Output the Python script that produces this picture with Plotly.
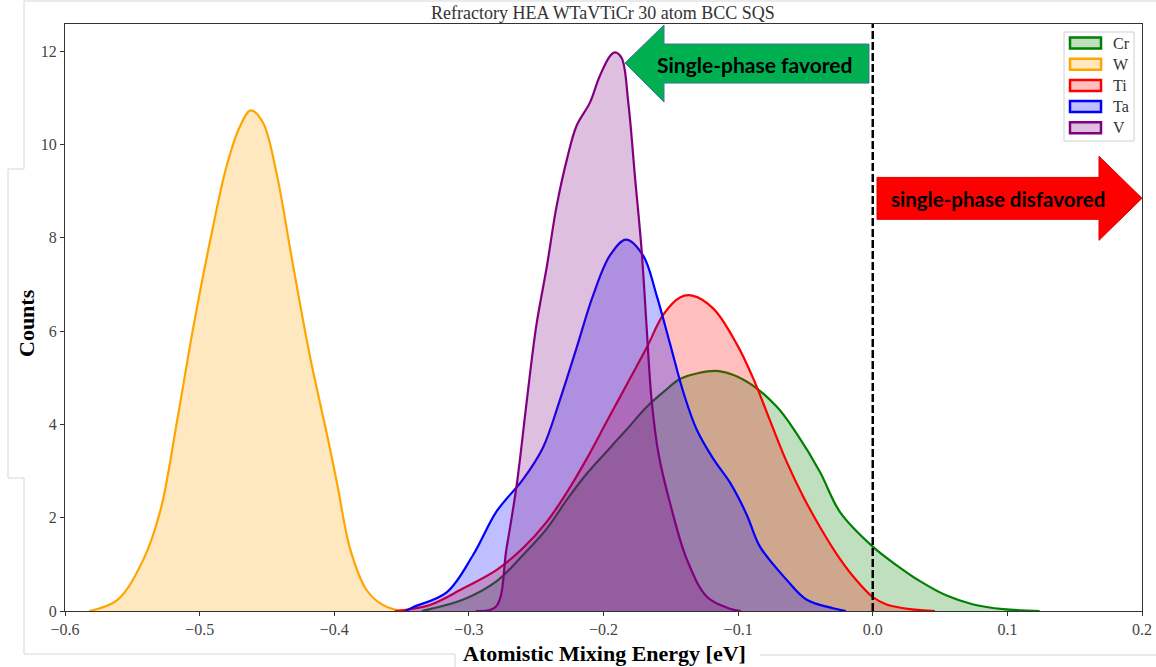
import plotly.graph_objects as go

# ---------------- data ----------------
species = ["Cr", "W", "Ti", "Ta", "V"]
line_colors = ["rgb(0,128,0)", "rgb(255,165,0)", "rgb(255,0,0)", "rgb(0,0,255)", "rgb(128,0,128)"]
fill_colors = ["rgba(0,128,0,0.25)", "rgba(255,165,0,0.25)", "rgba(255,0,0,0.25)",
               "rgba(0,0,255,0.25)", "rgba(128,0,128,0.25)"]

cr_x = [-0.335, -0.329, -0.3045, -0.2793, -0.2598, -0.2422, -0.2273, -0.2125, -0.1976, -0.1828,
        -0.168, -0.1556, -0.1432, -0.1308, -0.1142, -0.0937, -0.0714, -0.0565, -0.0392, -0.0243,
        0.0, 0.0178, 0.0351, 0.0549, 0.0747, 0.097, 0.124]
cr_y = [0.0, 0.04, 0.24, 0.64, 1.2, 1.76, 2.38, 2.94, 3.42, 3.89,
        4.37, 4.69, 4.97, 5.09, 5.14, 4.92, 4.38, 3.80, 2.98, 2.12,
        1.38, 0.98, 0.64, 0.33, 0.14, 0.04, 0.0]

w_x = [-0.582, -0.561, -0.542, -0.529, -0.517, -0.505, -0.492, -0.480, -0.470, -0.462,
       -0.453, -0.443, -0.431, -0.418, -0.405, -0.398, -0.388, -0.376, -0.364, -0.351]
w_y = [0.0, 0.24, 1.09, 2.17, 4.03, 6.03, 7.96, 9.53, 10.39, 10.73,
       10.47, 9.40, 7.47, 5.45, 3.73, 2.75, 1.31, 0.45, 0.13, 0.0]

ti_x = [-0.355, -0.329, -0.3045, -0.2793, -0.2598, -0.2422, -0.2273, -0.2125, -0.1976, -0.1828,
        -0.168, -0.1556, -0.1432, -0.134, -0.1184, -0.101, -0.0887, -0.0763, -0.064, -0.0516,
        -0.0392, -0.0268, -0.0145, 0.0, 0.0103, 0.0277, 0.0462]
ti_y = [0.0, 0.13, 0.48, 0.88, 1.35, 1.91, 2.54, 3.26, 4.06, 4.85,
        5.64, 6.35, 6.72, 6.76, 6.48, 5.72, 4.98, 4.08, 3.20, 2.45,
        1.80, 1.22, 0.74, 0.30, 0.14, 0.04, 0.0]

ta_x = [-0.347, -0.3415, -0.3165, -0.2969, -0.2793, -0.2598, -0.245, -0.2323, -0.220, -0.2078,
        -0.1952, -0.1833, -0.1706, -0.1605, -0.1506, -0.1407, -0.1308, -0.1184, -0.106, -0.0937,
        -0.0838, -0.064, -0.049, -0.0295, -0.020]
ta_y = [0.0, 0.08, 0.40, 1.2, 2.14, 2.82, 3.5, 4.53, 5.64, 6.76,
        7.62, 7.96, 7.62, 6.76, 5.73, 4.69, 3.89, 3.26, 2.75, 2.07,
        1.38, 0.67, 0.24, 0.06, 0.0]

v_x = [-0.295, -0.280, -0.272, -0.2645, -0.257, -0.250, -0.242, -0.235, -0.227, -0.220,
       -0.210, -0.203, -0.195, -0.1915, -0.1865, -0.1816, -0.1766, -0.1716, -0.168, -0.1642,
       -0.159, -0.150, -0.138, -0.123, -0.106, -0.098]
v_y = [0.0, 0.09, 1.35, 2.7, 4.5, 6.1, 7.4, 8.65, 9.7, 10.4,
       10.9, 11.45, 11.9, 11.97, 11.85, 10.9, 9.3, 7.7, 6.1, 4.5,
       3.35, 2.25, 1.1, 0.3, 0.05, 0.0]

series_x = [cr_x, w_x, ti_x, ta_x, v_x]
series_y = [cr_y, w_y, ti_y, ta_y, v_y]

x_tickvals = [-0.6, -0.5, -0.4, -0.3, -0.2, -0.1, 0.0, 0.1, 0.2]
x_ticktext = ["\u22120.6", "\u22120.5", "\u22120.4", "\u22120.3", "\u22120.2", "\u22120.1", "0.0", "0.1", "0.2"]
y_tickvals = [0, 2, 4, 6, 8, 10, 12]

title_text = "Refractory HEA WTaVTiCr 30 atom BCC SQS"
x_label = "Atomistic Mixing Energy [eV]"
y_label = "Counts"
favored_text = "Single-phase favored"
disfavored_text = "single-phase disfavored"

# ---------------- figure ----------------
SERIF = "Liberation Serif, Times New Roman, serif"
L, R, T, B, W, H = 65, 14, 24, 56, 1156, 667
PW, PH = W - L - R, H - T - B


def px_to_paper(px, py):
    return (px - L) / PW, (H - B - py) / PH


fig = go.Figure()
for name, xs, ys, lc, fc in zip(species, series_x, series_y, line_colors, fill_colors):
    fig.add_trace(go.Scatter(
        x=xs, y=ys, name=name, mode="lines", showlegend=False,
        line=dict(color=lc, width=2.2, shape="spline", smoothing=1.0),
        fill="tozeroy", fillcolor=fc,
    ))

# dashed vertical line at 0
fig.add_shape(type="line", xref="x", yref="paper", x0=0, x1=0, y0=0, y1=1,
              line=dict(color="black", width=2.5, dash="8px,3px"), layer="above")

# green arrow (pointing left)
fig.add_shape(type="path", xref="x", yref="y", layer="above",
              path="M -0.18403 11.743 L -0.15506 12.559 L -0.15506 12.151 L -0.00279 12.151 "
                   "L -0.00279 11.314 L -0.15506 11.314 L -0.15506 10.906 Z",
              fillcolor="#00B050", line=dict(color="#41719C", width=1))
# red arrow (pointing right)
fig.add_shape(type="path", xref="x", yref="y", layer="above",
              path="M 0.00316 9.292 L 0.16806 9.292 L 0.16806 9.746 L 0.2 8.845 "
                   "L 0.16806 7.943 L 0.16806 8.394 L 0.00316 8.394 Z",
              fillcolor="#FF0000", line=dict(color="#E00000", width=1))

fig.add_annotation(x=-0.0875, y=11.72, xref="x", yref="y", text="<b>" + favored_text + "</b>",
                   showarrow=False, font=dict(family="Lato, Open Sans, sans-serif", size=21, color="black"))
fig.add_annotation(x=0.093, y=8.82, xref="x", yref="y", text="<b>" + disfavored_text + "</b>",
                   showarrow=False, font=dict(family="Lato, Open Sans, sans-serif", size=20.5, color="black"))

# title and axis titles
tx, ty = px_to_paper(603, 13)
fig.add_annotation(x=tx, y=ty, xref="paper", yref="paper", text=title_text, showarrow=False,
                   xanchor="center", yanchor="middle", font=dict(family=SERIF, size=18, color="#333"))
lx, ly = px_to_paper(604, 653)
fig.add_annotation(x=lx, y=ly, xref="paper", yref="paper", text="<b>" + x_label + "</b>",
                   showarrow=False, xanchor="center", yanchor="middle",
                   font=dict(family=SERIF, size=22, color="black"))
cx, cy = px_to_paper(26, 323)
fig.add_annotation(x=cx, y=cy, xref="paper", yref="paper", text="<b>" + y_label + "</b>",
                   showarrow=False, xanchor="center", yanchor="middle", textangle=-90,
                   font=dict(family=SERIF, size=22, color="black"))

# legend drawn as a matplotlib-style box
bx0, by0 = px_to_paper(1064, 141)
bx1, by1 = px_to_paper(1134, 32)
fig.add_shape(type="rect", xref="paper", yref="paper", x0=bx0, y0=by0, x1=bx1, y1=by1,
              fillcolor="rgba(255,255,255,0.85)", line=dict(color="#d0d0d0", width=1), layer="above")
for i, (name, lc, fc) in enumerate(zip(species, line_colors, fill_colors)):
    yc = 43 + i * 21.2
    sx0, sy0 = px_to_paper(1070, yc + 5.5)
    sx1, sy1 = px_to_paper(1101, yc - 5.5)
    fig.add_shape(type="rect", xref="paper", yref="paper", x0=sx0, y0=sy0, x1=sx1, y1=sy1,
                  fillcolor=fc, line=dict(color=lc, width=2.5), layer="above")
    nx, ny = px_to_paper(1111, yc)
    fig.add_annotation(x=nx, y=ny, xref="paper", yref="paper", text=name, showarrow=False,
                       xanchor="left", yanchor="middle", font=dict(family=SERIF, size=16, color="#333"))

# faint frame remnants around the picture
frame_lines = [((24, 1), (1156, 1)), ((24, 1), (24, 169)), ((8, 169), (24, 169)), ((8, 169), (8, 478)),
               ((8, 478), (24, 478)), ((24, 478), (24, 654)), ((24, 654), (455, 654)),
               ((455, 654), (455, 667)), ((760, 655), (1156, 655))]
for (a, b) in frame_lines:
    x0, y0 = px_to_paper(*a)
    x1, y1 = px_to_paper(*b)
    fig.add_shape(type="line", xref="paper", yref="paper", x0=x0, y0=y0, x1=x1, y1=y1,
                  line=dict(color="#d6d6d6", width=1))

axis_common = dict(showline=True, mirror=True, linecolor="#333", linewidth=1, ticks="outside",
                   ticklen=4, tickcolor="#333", showgrid=False, zeroline=False, automargin=False,
                   tickfont=dict(family=SERIF, size=16, color="#444"))
fig.update_xaxes(range=[-0.6, 0.2], tickvals=x_tickvals, ticktext=x_ticktext, **axis_common)
fig.update_yaxes(range=[0, 12.58], tickvals=y_tickvals, **axis_common)

fig.update_layout(
    width=W, height=H,
    margin=dict(l=L, r=R, t=T, b=B, autoexpand=False),
    plot_bgcolor="white", paper_bgcolor="white",
    showlegend=False,
)

fig.write_html("out.html")
